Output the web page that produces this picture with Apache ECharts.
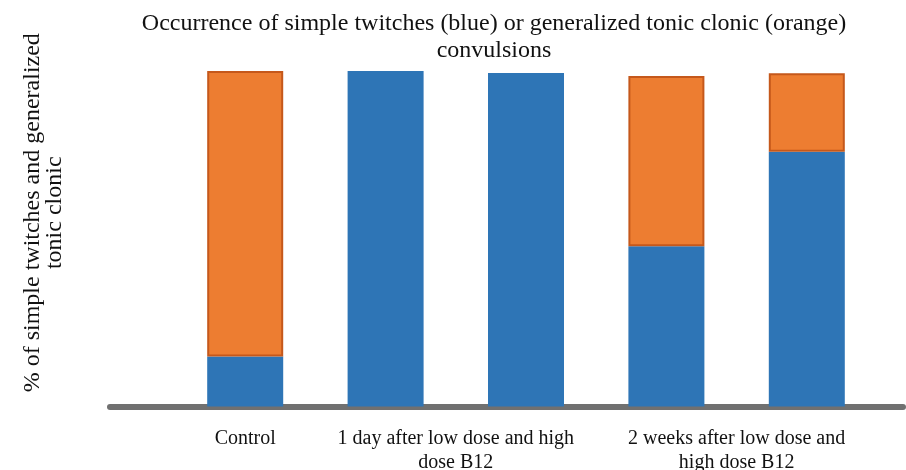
<!DOCTYPE html>
<html>
<head>
<meta charset="utf-8">
<script src="https://cdn.jsdelivr.net/npm/echarts@6/dist/echarts.min.js"></script>
<style>html,body{margin:0;padding:0;background:#fff}#c{width:906px;height:470px}</style>
</head>
<body>
<div id="c"></div>
<script>
const categories = ['Control', '1 day low dose', '1 day high dose B12', '2 weeks low dose', '2 weeks high dose B12'];
const simpleTwitches = [14.9, 100, 99.4, 47.8, 75.9];      // blue
const generalizedTonicClonic = [85.1, 0, 0, 50.7, 23.4];   // orange
const groupLabelSlots = ['', 'Control', '', '', '1 day after low dose and high\ndose B12', '', '', '', '2 weeks after low dose and\nhigh dose B12', '', ''];
const titleText = 'Occurrence of simple twitches (blue) or generalized tonic clonic (orange)\nconvulsions';
const yName = '% of simple twitches and generalized\ntonic clonic';

const chart = echarts.init(document.getElementById('c'));
const serif = '"Liberation Serif", "Times New Roman", serif';
chart.setOption({
  animation: false,
  title: {
    text: titleText,
    left: 494,
    top: 10,
    textAlign: 'center',
    padding: 0,
    textStyle: { fontFamily: serif, fontSize: 24, fontWeight: 'normal', color: '#111', lineHeight: 27 }
  },
  grid: [
    { left: 175, right: 29, top: 71, bottom: 63.5, outerBoundsMode: 'none', containLabel: false },
    { left: 110, right: 3, top: 71, bottom: 63.5, outerBoundsMode: 'none', containLabel: false }
  ],
  xAxis: [
    { type: 'category', gridIndex: 0, data: categories, axisLine: { show: false }, axisTick: { show: false }, axisLabel: { show: false } },
    { type: 'category', gridIndex: 0, data: groupLabelSlots, boundaryGap: false, position: 'bottom',
      axisLine: { show: false }, axisTick: { show: false },
      axisLabel: { interval: 0, margin: 20, fontFamily: serif, fontSize: 20, color: '#111', lineHeight: 24, align: 'center' } },
    { type: 'category', gridIndex: 1, data: [''], position: 'bottom', offset: 3,
      axisLine: { show: true, lineStyle: { color: '#707070', width: 6 } }, axisTick: { show: false }, axisLabel: { show: false } }
  ],
  yAxis: [
    { type: 'value', gridIndex: 0, min: 0, max: 100, splitLine: { show: false }, axisLine: { show: false }, axisTick: { show: false }, axisLabel: { show: false },
      name: yName, nameLocation: 'middle', nameRotate: 90, nameGap: 109,
      nameTextStyle: { fontFamily: serif, fontSize: 24, color: '#111', lineHeight: 22, padding: [0, 0, 0, 52] } },
    { type: 'value', gridIndex: 1, show: false }
  ],
  series: [
    { name: 'Simple twitches', type: 'bar', stack: 'a', xAxisIndex: 0, yAxisIndex: 0, data: simpleTwitches, barWidth: 76,
      itemStyle: { color: '#2e75b6' }, z: 3 },
    { name: 'Generalized tonic clonic', type: 'bar', stack: 'a', xAxisIndex: 0, yAxisIndex: 0,
      data: generalizedTonicClonic.map(v => (v === 0 ? '-' : v)), barWidth: 76,
      itemStyle: { color: '#ed7d31', borderColor: '#c5581b', borderWidth: 2 }, z: 3 }
  ]
});
</script>
</body>
</html>
